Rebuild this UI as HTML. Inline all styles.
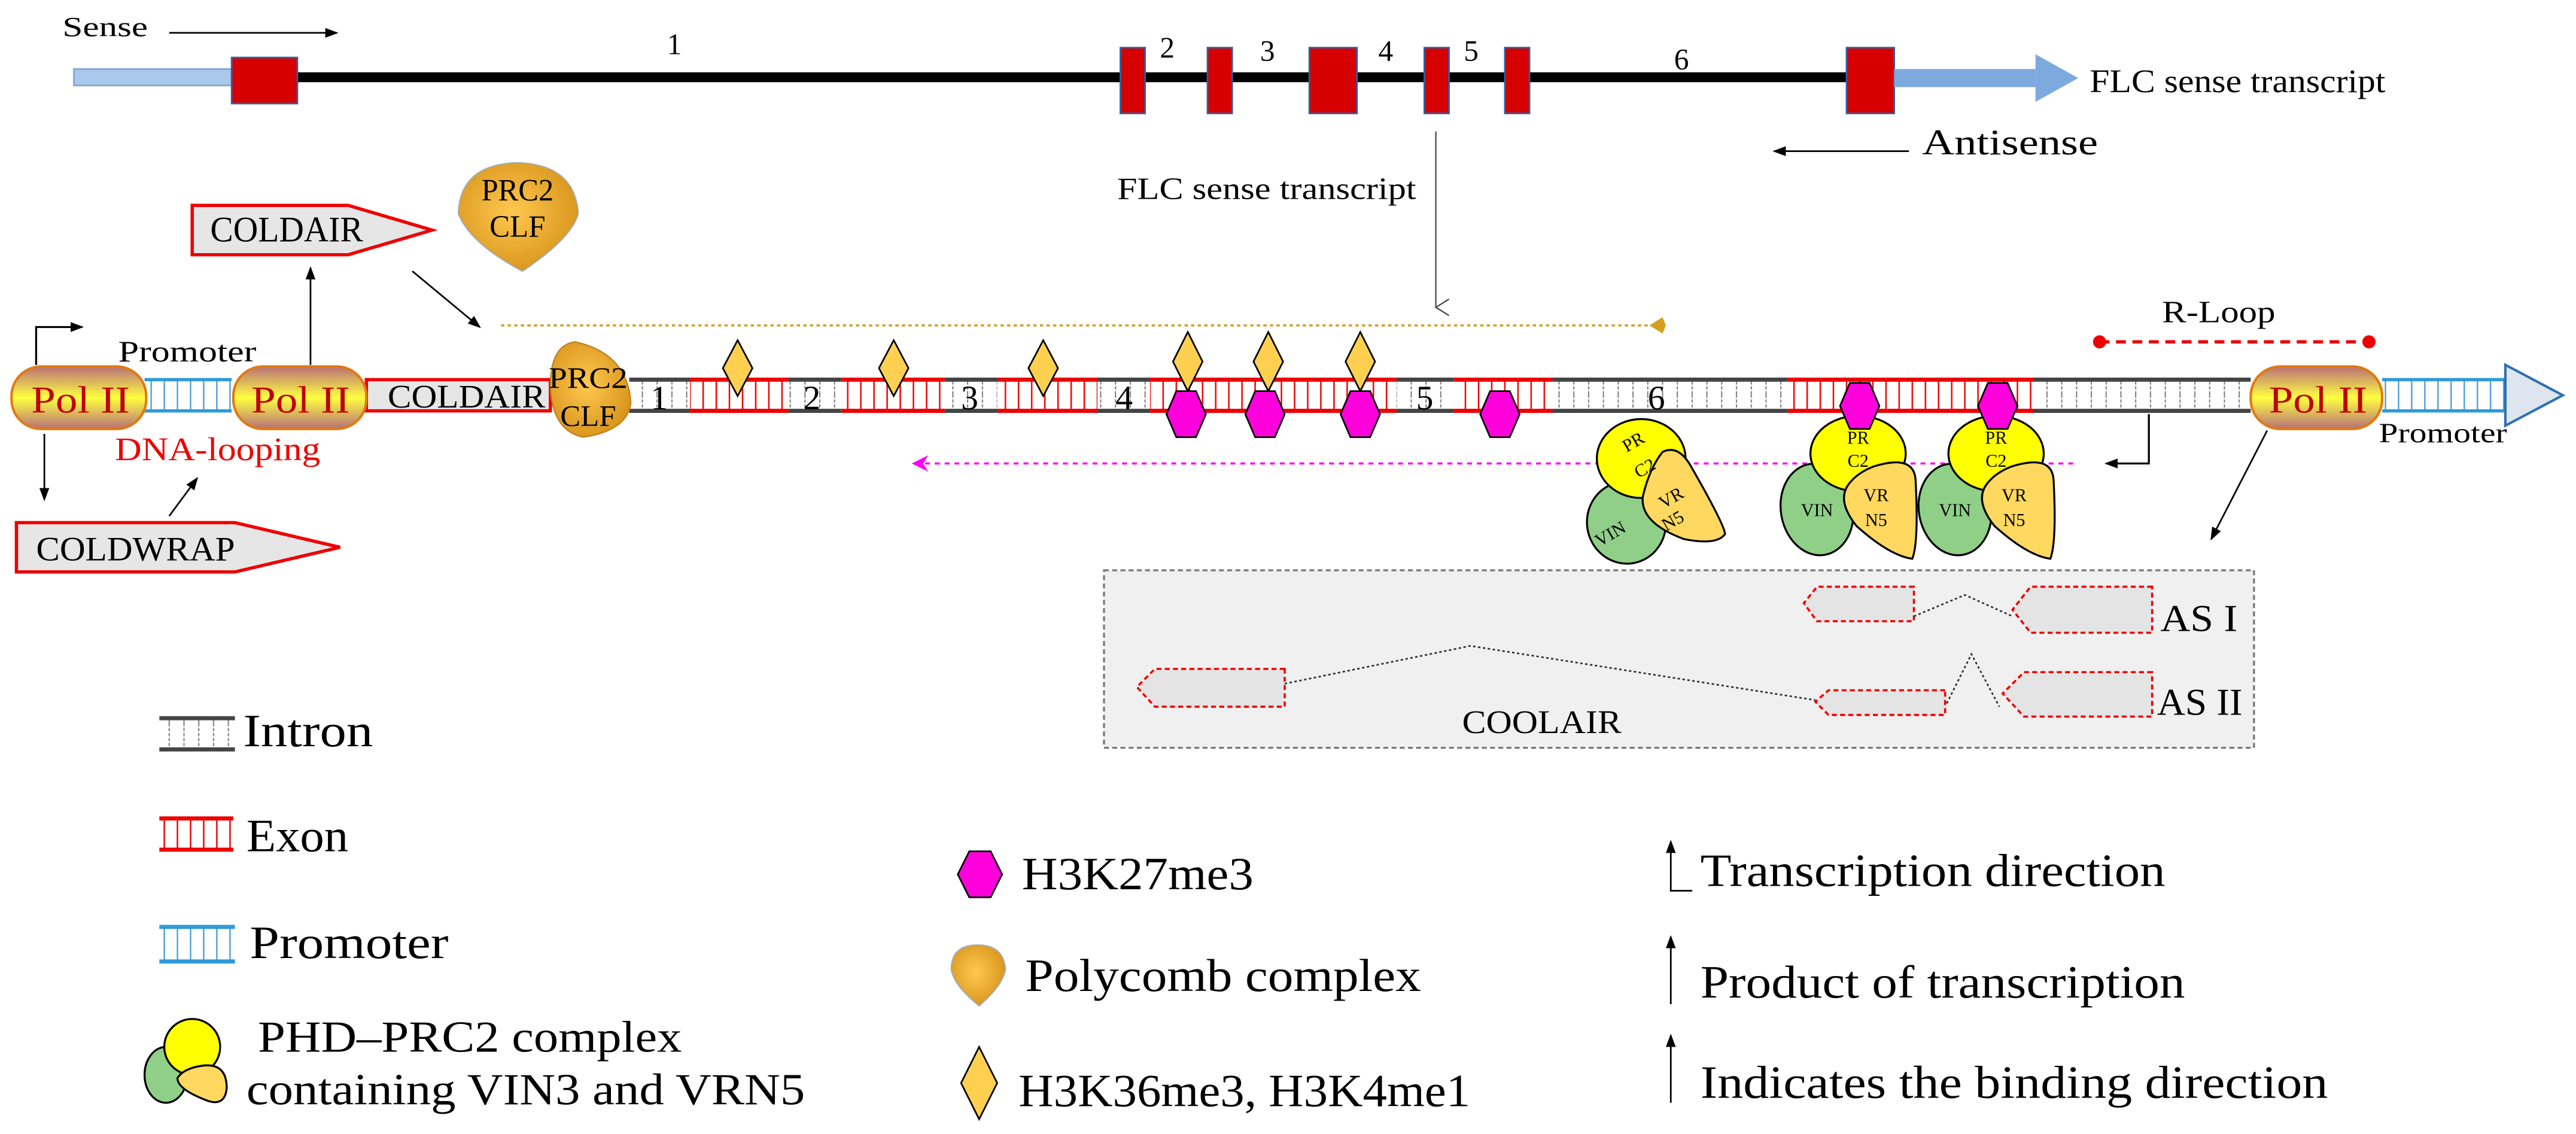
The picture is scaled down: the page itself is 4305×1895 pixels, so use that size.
<!DOCTYPE html>
<html><head><meta charset="utf-8"><style>
html,body{margin:0;padding:0;background:#fff;}
svg{display:block;}
text{font-family:"Liberation Serif",serif;}
</style></head><body>
<svg width="4305" height="1895" viewBox="0 0 1568 690" preserveAspectRatio="none" xmlns="http://www.w3.org/2000/svg">
<defs>
<pattern id="pi" patternUnits="userSpaceOnUse" width="9" height="20"><rect width="9" height="20" fill="#fff"/><line x1="4" y1="0" x2="4" y2="20" stroke="#777" stroke-width="0.7" stroke-dasharray="2,1"/></pattern>
<pattern id="pe" patternUnits="userSpaceOnUse" width="8" height="20"><rect width="8" height="20" fill="#fff"/><line x1="4" y1="0" x2="4" y2="20" stroke="#e00" stroke-width="0.9"/></pattern>
<pattern id="pp" patternUnits="userSpaceOnUse" width="8" height="20"><rect width="8" height="20" fill="#fff"/><line x1="4" y1="0" x2="4" y2="20" stroke="#3a9ad8" stroke-width="0.8"/></pattern>
<linearGradient id="pol" x1="0" y1="0" x2="0" y2="1"><stop offset="0" stop-color="#b87078"/><stop offset="0.5" stop-color="#ffff40"/><stop offset="1" stop-color="#b87078"/></linearGradient>
<radialGradient id="org" cx="0.45" cy="0.45" r="0.7"><stop offset="0" stop-color="#ffc850"/><stop offset="1" stop-color="#d08a10"/></radialGradient>
<marker id="ah" markerWidth="8" markerHeight="8" refX="7" refY="4" orient="auto" markerUnits="userSpaceOnUse"><path d="M0,1 L8,4 L0,7 Z" fill="#000"/></marker>
<marker id="ao" markerWidth="10" markerHeight="10" refX="9" refY="5" orient="auto" markerUnits="userSpaceOnUse"><path d="M0,5 L8,0 L10,5 L8,10 Z" fill="#d4a020"/></marker>
<marker id="ap" markerWidth="10" markerHeight="10" refX="9" refY="5" orient="auto" markerUnits="userSpaceOnUse"><path d="M0,0 L10,5 L0,10 L3,5 Z" fill="#f0f"/></marker>
<marker id="av" markerWidth="12" markerHeight="14" refX="6" refY="13" orient="auto" markerUnits="userSpaceOnUse"><path d="M1,5 L6,13 L11,5" fill="none" stroke="#444" stroke-width="0.8"/></marker>
</defs>

<!-- Top gene model -->
<text x="38" y="22" font-size="17" textLength="52" lengthAdjust="spacingAndGlyphs">Sense</text>
<line x1="103" y1="20" x2="205" y2="20" stroke="#000" stroke-width="1" marker-end="url(#ah)"/>
<rect x="45" y="42" width="96" height="10" fill="#a9c8ea" stroke="#7fa7d8" stroke-width="1"/>
<rect x="181" y="44" width="944" height="6" fill="#000"/>
<g fill="#d60000" stroke="#3060a0" stroke-width="1">
<rect x="141" y="35" width="40" height="28"/>
<rect x="682" y="29" width="15" height="40"/>
<rect x="735" y="29" width="15" height="40"/>
<rect x="797" y="29" width="29" height="40"/>
<rect x="867" y="29" width="15" height="40"/>
<rect x="916" y="29" width="15" height="40"/>
<rect x="1124" y="29" width="29" height="40"/>
</g>
<rect x="1153" y="42" width="86" height="11" fill="#7ea9de"/>
<path d="M1239,33 L1265,47.5 L1239,62 Z" fill="#7ea9de"/>
<text x="1272" y="56" font-size="20" textLength="180" lengthAdjust="spacingAndGlyphs">FLC sense transcript</text>
<g font-size="18"><text x="406" y="33">1</text><text x="706" y="35">2</text><text x="767" y="37">3</text><text x="839" y="37">4</text><text x="891" y="37">5</text><text x="1019" y="42">6</text></g>
<line x1="1162" y1="92" x2="1080" y2="92" stroke="#000" stroke-width="1" marker-end="url(#ah)"/>
<text x="1170" y="94" font-size="22" textLength="107" lengthAdjust="spacingAndGlyphs">Antisense</text>
<text x="680" y="121" font-size="19" textLength="182" lengthAdjust="spacingAndGlyphs">FLC sense transcript</text>
<line x1="874" y1="80" x2="874" y2="187" stroke="#444" stroke-width="0.8" marker-end="url(#av)"/>

<!-- COLDAIR upper -->
<path d="M117,125 L212,125 L263,140 L212,155 L117,155 Z" fill="#e6e6e6" stroke="#e00" stroke-width="2"/>
<text x="128" y="147" font-size="22" textLength="93" lengthAdjust="spacingAndGlyphs">COLDAIR</text>
<path d="M279,130 Q280,100 315,99 Q350,100 352,130 Q348,145 318,165 Q286,148 279,130 Z" fill="url(#org)" stroke="#aaa" stroke-width="0.8"/>
<text x="315" y="122" font-size="19" text-anchor="middle" textLength="44" lengthAdjust="spacingAndGlyphs">PRC2</text>
<text x="315" y="144" font-size="19" text-anchor="middle" textLength="34" lengthAdjust="spacingAndGlyphs">CLF</text>
<line x1="189" y1="222" x2="189" y2="163" stroke="#000" stroke-width="1" marker-end="url(#ah)"/>
<line x1="251" y1="165" x2="292" y2="199" stroke="#000" stroke-width="1" marker-end="url(#ah)"/>
<line x1="305" y1="198" x2="1013" y2="198" stroke="#d4a020" stroke-width="1.3" stroke-dasharray="2,2" marker-end="url(#ao)"/>

<!-- main strand -->
<rect x="88" y="231" width="53" height="19" fill="url(#pp)"/>
<line x1="88" y1="231" x2="141" y2="231" stroke="#2f9ad8" stroke-width="2"/>
<line x1="88" y1="250" x2="141" y2="250" stroke="#2f9ad8" stroke-width="2"/>
<rect x="223" y="231" width="112" height="19" fill="#e6e6e6" stroke="#e00" stroke-width="2"/>
<text x="236" y="248" font-size="20" textLength="96" lengthAdjust="spacingAndGlyphs">COLDAIR</text>
<g>
<rect x="383" y="231" width="37" height="19" fill="url(#pi)"/>
<rect x="480" y="231" width="32" height="19" fill="url(#pi)"/>
<rect x="575" y="231" width="32" height="19" fill="url(#pi)"/>
<rect x="668" y="231" width="32" height="19" fill="url(#pi)"/>
<rect x="850" y="231" width="35" height="19" fill="url(#pi)"/>
<rect x="945" y="231" width="143" height="19" fill="url(#pi)"/>
<rect x="1238" y="231" width="132" height="19" fill="url(#pi)"/>
</g>
<g stroke="#444" stroke-width="2.5">
<line x1="383" y1="231" x2="420" y2="231"/><line x1="383" y1="250" x2="420" y2="250"/>
<line x1="480" y1="231" x2="512" y2="231"/><line x1="480" y1="250" x2="512" y2="250"/>
<line x1="575" y1="231" x2="607" y2="231"/><line x1="575" y1="250" x2="607" y2="250"/>
<line x1="668" y1="231" x2="700" y2="231"/><line x1="668" y1="250" x2="700" y2="250"/>
<line x1="850" y1="231" x2="885" y2="231"/><line x1="850" y1="250" x2="885" y2="250"/>
<line x1="945" y1="231" x2="1088" y2="231"/><line x1="945" y1="250" x2="1088" y2="250"/>
<line x1="1238" y1="231" x2="1370" y2="231"/><line x1="1238" y1="250" x2="1370" y2="250"/>
</g>
<g>
<rect x="420" y="231" width="60" height="19" fill="url(#pe)"/>
<rect x="512" y="231" width="63" height="19" fill="url(#pe)"/>
<rect x="607" y="231" width="61" height="19" fill="url(#pe)"/>
<rect x="700" y="231" width="150" height="19" fill="url(#pe)"/>
<rect x="885" y="231" width="60" height="19" fill="url(#pe)"/>
<rect x="1088" y="231" width="150" height="19" fill="url(#pe)"/>
</g>
<g stroke="#e00" stroke-width="2.5">
<line x1="420" y1="231" x2="480" y2="231"/><line x1="420" y1="250" x2="480" y2="250"/>
<line x1="512" y1="231" x2="575" y2="231"/><line x1="512" y1="250" x2="575" y2="250"/>
<line x1="607" y1="231" x2="668" y2="231"/><line x1="607" y1="250" x2="668" y2="250"/>
<line x1="700" y1="231" x2="850" y2="231"/><line x1="700" y1="250" x2="850" y2="250"/>
<line x1="885" y1="231" x2="945" y2="231"/><line x1="885" y1="250" x2="945" y2="250"/>
<line x1="1088" y1="231" x2="1238" y2="231"/><line x1="1088" y1="250" x2="1238" y2="250"/>
</g>
<g font-size="21"><text x="396" y="249">1</text><text x="489" y="249">2</text><text x="585" y="249">3</text><text x="679" y="249">4</text><text x="862" y="249">5</text><text x="1003" y="249">6</text></g>
<rect x="1450" y="231" width="75" height="19" fill="url(#pp)"/>
<line x1="1450" y1="231" x2="1525" y2="231" stroke="#2f9ad8" stroke-width="2"/>
<line x1="1450" y1="250" x2="1525" y2="250" stroke="#2f9ad8" stroke-width="2"/>
<path d="M1525,222 L1560,240.5 L1525,259 Z" fill="#dde6ee" stroke="#2f6fb0" stroke-width="1.5"/>
<g stroke="#e07a10" stroke-width="1.5" fill="url(#pol)">
<rect x="7" y="223" width="82" height="38" rx="18"/>
<rect x="142" y="223" width="81" height="38" rx="18"/>
<rect x="1370" y="223" width="80" height="38" rx="18"/>
</g>
<g font-size="23" fill="#c00000">
<text x="19" y="251" textLength="60" lengthAdjust="spacingAndGlyphs">Pol II</text>
<text x="153" y="251" textLength="60" lengthAdjust="spacingAndGlyphs">Pol II</text>
<text x="1381" y="251" textLength="60" lengthAdjust="spacingAndGlyphs">Pol II</text>
</g>
<path d="M335,235 Q335,210 350,208 Q382,215 384,245 Q382,262 355,266 Q336,262 335,235 Z" fill="url(#org)" stroke="#c08020" stroke-width="0.8"/>
<text x="358" y="236" font-size="18" text-anchor="middle" textLength="48" lengthAdjust="spacingAndGlyphs">PRC2</text>
<text x="358" y="259" font-size="18" text-anchor="middle" textLength="34" lengthAdjust="spacingAndGlyphs">CLF</text>
<text x="72" y="220" font-size="18" textLength="84" lengthAdjust="spacingAndGlyphs">Promoter</text>
<path d="M22,222 L22,199 L50,199" fill="none" stroke="#000" stroke-width="1.2" marker-end="url(#ah)"/>
<text x="70" y="280" font-size="20" fill="#e00" textLength="125" lengthAdjust="spacingAndGlyphs">DNA-looping</text>
<line x1="27" y1="264" x2="27" y2="304" stroke="#000" stroke-width="1" marker-end="url(#ah)"/>
<line x1="103" y1="314" x2="120" y2="291" stroke="#000" stroke-width="1" marker-end="url(#ah)"/>
<path d="M10,318 L143,318 L207,333 L143,348 L10,348 Z" fill="#e6e6e6" stroke="#e00" stroke-width="2"/>
<text x="22" y="341" font-size="21" textLength="121" lengthAdjust="spacingAndGlyphs">COLDWRAP</text>
<text x="1448" y="269" font-size="17" textLength="78" lengthAdjust="spacingAndGlyphs">Promoter</text>
<g fill="#ffd050" stroke="#000" stroke-width="1">
<path d="M449,207 L458,224 L449,241 L440,224 Z"/>
<path d="M544,207 L553,224 L544,241 L535,224 Z"/>
<path d="M635,207 L644,224 L635,241 L626,224 Z"/>
<path d="M723,202 L732,220 L723,238 L714,220 Z"/>
<path d="M772,202 L781,220 L772,238 L763,220 Z"/>
<path d="M828,202 L837,220 L828,238 L819,220 Z"/>
</g>
<line x1="1262" y1="282" x2="556" y2="282" stroke="#f0f" stroke-width="1.3" stroke-dasharray="3,3" marker-end="url(#ap)"/>
<path d="M1308,252 L1308,282 L1282,282" fill="none" stroke="#000" stroke-width="1.2" marker-end="url(#ah)"/>
<text x="1316" y="196" font-size="19" textLength="69" lengthAdjust="spacingAndGlyphs">R-Loop</text>
<line x1="1278" y1="208" x2="1442" y2="208" stroke="#e00" stroke-width="2" stroke-dasharray="6,4"/>
<circle cx="1278" cy="208" r="4" fill="#e00"/><circle cx="1442" cy="208" r="4" fill="#e00"/>
<line x1="1380" y1="262" x2="1346" y2="328" stroke="#000" stroke-width="1" marker-end="url(#ah)"/>
<g stroke="#000" stroke-width="1.2">
<ellipse cx="990" cy="318" rx="24" ry="25" fill="#8fcf88" transform="rotate(-10 990 318)"/>
<ellipse cx="999" cy="279" rx="27" ry="24" fill="#ffff00"/>
<path d="M1012,275 Q1022,270 1030,285 Q1050,320 1050,325 Q1045,332 1025,328 Q998,318 1000,302 Q1004,285 1012,275 Z" fill="#ffd860"/>
<ellipse cx="1106" cy="310" rx="22" ry="28" fill="#8fcf88" transform="rotate(-10 1106 310)"/>
<ellipse cx="1131" cy="276" rx="29" ry="23" fill="#ffff00"/>
<path d="M1140,284 Q1165,276 1166,292 Q1168,330 1164,340 Q1150,338 1130,320 Q1118,305 1125,295 Q1130,288 1140,284 Z" fill="#ffd860"/>
<ellipse cx="1190" cy="310" rx="22" ry="28" fill="#8fcf88" transform="rotate(-10 1190 310)"/>
<ellipse cx="1215" cy="276" rx="29" ry="23" fill="#ffff00"/>
<path d="M1224,284 Q1249,276 1250,292 Q1252,330 1248,340 Q1234,338 1214,320 Q1202,305 1209,295 Q1214,288 1224,284 Z" fill="#ffd860"/>
</g>
<g font-size="11" text-anchor="middle">
<text x="996" y="272" transform="rotate(-30 996 272)">PR</text><text x="1003" y="288" transform="rotate(-30 1003 288)">C2</text>
<text x="1019" y="306" transform="rotate(-30 1019 306)">VR</text><text x="1020" y="320" transform="rotate(-30 1020 320)">N5</text>
<text x="982" y="328" transform="rotate(-30 982 328)">VIN</text>
<text x="1131" y="270">PR</text><text x="1131" y="284">C2</text>
<text x="1142" y="305">VR</text><text x="1142" y="320">N5</text><text x="1106" y="314">VIN</text>
<text x="1215" y="270">PR</text><text x="1215" y="284">C2</text>
<text x="1226" y="305">VR</text><text x="1226" y="320">N5</text><text x="1190" y="314">VIN</text>
</g>
<g fill="#ff00dd" stroke="#000" stroke-width="1">
<path d="M716,238 L728,238 L734,252 L728,266 L716,266 L710,252 Z"/>
<path d="M764,238 L776,238 L782,252 L776,266 L764,266 L758,252 Z"/>
<path d="M822,238 L834,238 L840,252 L834,266 L822,266 L816,252 Z"/>
<path d="M907,238 L919,238 L925,252 L919,266 L907,266 L901,252 Z"/>
<path d="M1126,233 L1138,233 L1144,247 L1138,261 L1126,261 L1120,247 Z"/>
<path d="M1210,233 L1222,233 L1228,247 L1222,261 L1210,261 L1204,247 Z"/>
</g>
<rect x="672" y="347" width="700" height="108" fill="#f0f0f0" stroke="#777" stroke-width="1.2" stroke-dasharray="3,2"/>
<g fill="#e4e4e4" stroke="#e00" stroke-width="1.3" stroke-dasharray="3,2">
<path d="M1165,357 L1106,357 L1098,367 L1106,378 L1165,378 Z"/>
<path d="M1310,357 L1236,357 L1225,371 L1236,385 L1310,385 Z"/>
<path d="M782,407 L703,407 L692,418 L703,430 L782,430 Z"/>
<path d="M1184,420 L1113,420 L1105,427 L1113,435 L1184,435 Z"/>
<path d="M1310,409 L1232,409 L1219,422 L1232,436 L1310,436 Z"/>
</g>
<g fill="none" stroke="#333" stroke-width="1" stroke-dasharray="1.5,1.5">
<path d="M1165,375 L1196,362 L1225,375"/>
<path d="M782,416 L895,393 L1105,426"/>
<path d="M1185,428 L1200,398 L1217,430"/>
</g>
<text x="1315" y="384" font-size="23" textLength="47" lengthAdjust="spacingAndGlyphs">AS I</text>
<text x="1313" y="435" font-size="23" textLength="52" lengthAdjust="spacingAndGlyphs">AS II</text>
<text x="890" y="446" font-size="20" textLength="97" lengthAdjust="spacingAndGlyphs">COOLAIR</text>

<!-- Legend left -->
<rect x="97" y="437" width="46" height="19" fill="url(#pi)"/>
<line x1="97" y1="437" x2="143" y2="437" stroke="#444" stroke-width="2.5"/><line x1="97" y1="456" x2="143" y2="456" stroke="#444" stroke-width="2.5"/>
<text x="148" y="454" font-size="28" textLength="79" lengthAdjust="spacingAndGlyphs">Intron</text>
<rect x="97" y="498" width="45" height="19" fill="url(#pe)"/>
<line x1="97" y1="498" x2="142" y2="498" stroke="#e00" stroke-width="2.5"/><line x1="97" y1="517" x2="142" y2="517" stroke="#e00" stroke-width="2.5"/>
<text x="150" y="518" font-size="28" textLength="62" lengthAdjust="spacingAndGlyphs">Exon</text>
<rect x="97" y="564" width="46" height="21" fill="url(#pp)"/>
<line x1="97" y1="564" x2="143" y2="564" stroke="#2f9ad8" stroke-width="2.5"/><line x1="97" y1="585" x2="143" y2="585" stroke="#2f9ad8" stroke-width="2.5"/>
<text x="152" y="583" font-size="28" textLength="121" lengthAdjust="spacingAndGlyphs">Promoter</text>
<g stroke="#000" stroke-width="1.2">
<ellipse cx="101" cy="654" rx="13" ry="17" fill="#8fcf88"/>
<ellipse cx="117" cy="637" rx="17" ry="17" fill="#ffff00"/>
<path d="M120,649 Q138,645 138,662 Q137,673 127,670 Q108,663 108,656 Q111,651 120,649 Z" fill="#ffd860"/>
</g>
<text x="157" y="640" font-size="27" textLength="258" lengthAdjust="spacingAndGlyphs">PHD–PRC2 complex</text>
<text x="150" y="672" font-size="27" textLength="340" lengthAdjust="spacingAndGlyphs">containing VIN3 and VRN5</text>
<!-- Legend middle -->
<path d="M590,518 L603,518 L610,532 L603,546 L590,546 L583,532 Z" fill="#ff00dd" stroke="#000" stroke-width="1"/>
<text x="622" y="541" font-size="28" textLength="141" lengthAdjust="spacingAndGlyphs">H3K27me3</text>
<path d="M579,590 Q579,575 595,575 Q611,575 612,590 Q610,600 596,612 Q581,600 579,590 Z" fill="url(#org)" stroke="#aaa" stroke-width="0.8"/>
<text x="624" y="603" font-size="28" textLength="241" lengthAdjust="spacingAndGlyphs">Polycomb complex</text>
<path d="M596,637 L607,659 L596,681 L585,659 Z" fill="#ffd050" stroke="#000" stroke-width="1"/>
<text x="620" y="673" font-size="28" textLength="275" lengthAdjust="spacingAndGlyphs">H3K36me3, H3K4me1</text>
<!-- Legend right -->
<path d="M1030,542 L1017,542 L1017,512" fill="none" stroke="#000" stroke-width="1" marker-end="url(#ah)"/>
<text x="1035" y="539" font-size="28" textLength="283" lengthAdjust="spacingAndGlyphs">Transcription direction</text>
<line x1="1017" y1="611" x2="1017" y2="570" stroke="#000" stroke-width="1" marker-end="url(#ah)"/>
<text x="1035" y="607" font-size="28" textLength="295" lengthAdjust="spacingAndGlyphs">Product of transcription</text>
<line x1="1017" y1="671" x2="1017" y2="630" stroke="#000" stroke-width="1" marker-end="url(#ah)"/>
<text x="1035" y="668" font-size="28" textLength="382" lengthAdjust="spacingAndGlyphs">Indicates the binding direction</text>
</svg>
</body></html>
